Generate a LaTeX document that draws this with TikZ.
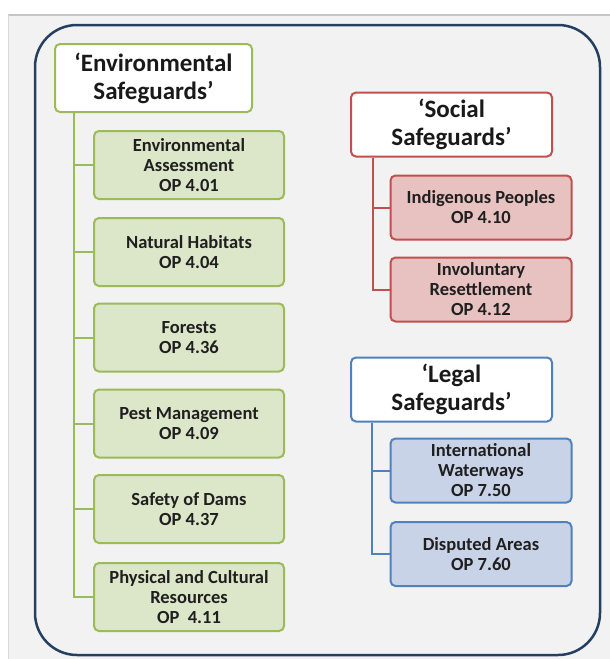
\documentclass[tikz,border=0pt]{standalone}
\usepackage{fontspec}
\setmainfont{Carlito}
\usepackage{tikz}
\usetikzlibrary{positioning}
\definecolor{olivegreen}{HTML}{9BBB59}
\definecolor{olivefill}{HTML}{DCE6C8}
\definecolor{brickred}{HTML}{C0504D}
\definecolor{brickfill}{HTML}{E8C2C1}
\definecolor{steelblue}{HTML}{4F81BD}
\definecolor{steelfill}{HTML}{C9D3E8}
\definecolor{navyframe}{HTML}{243F60}
\definecolor{panelgray}{HTML}{F2F2F2}

\tikzset{
  head/.style={draw=#1, fill=white, line width=2pt, rounded corners=5pt,
    align=center, font=\bfseries\fontsize{25}{28}\selectfont, text=black!90,
    minimum width=197pt, minimum height=68pt, inner sep=1pt},
  leaf/.style 2 args={draw=#1, fill=#2, line width=2pt, rounded corners=5pt,
    align=center, font=\bfseries\fontsize{18.5}{20}\selectfont, text=black!88,
    minimum width=190pt, minimum height=68pt, inner sep=1pt},
  trunk/.style={draw=#1, line width=2pt}
}

\begin{document}
\begin{tikzpicture}[x=1pt, y=-1pt]
  \useasboundingbox (0,0) rectangle (610,659);
  % background panel and frame
  \fill[panelgray] (8,15) rectangle (610,659);
  \draw[gray!45, line width=1.5pt] (8,15) -- (610,15);
  \draw[gray!30, line width=1pt] (8,15) -- (8,659);
  \draw[navyframe, line width=2.5pt, rounded corners=42pt] (35,25) rectangle (600,655);

  % environmental branch
  \node[head=olivegreen] (env) at (153.5,78) {`Environmental\\Safeguards'};
  \node[leaf={olivegreen}{olivefill}] (ea) at (189,165) {Environmental\\Assessment\\OP 4.01};
  \node[leaf={olivegreen}{olivefill}] (nh) at (189,252) {Natural Habitats\\OP 4.04};
  \node[leaf={olivegreen}{olivefill}] (fo) at (189,337.5) {Forests\\OP 4.36};
  \node[leaf={olivegreen}{olivefill}] (pm) at (189,423.5) {Pest Management\\OP 4.09};
  \node[leaf={olivegreen}{olivefill}] (sd) at (189,509) {Safety of Dams\\OP 4.37};
  \node[leaf={olivegreen}{olivefill}] (pc) at (189,597) {Physical and Cultural\\Resources\\OP\ \ 4.11};
  \foreach \n in {ea,nh,fo,pm,sd,pc}
    \draw[trunk=olivegreen] ([xshift=20pt]env.south west) |- (\n.west);

  % social branch
  \node[head=brickred, minimum width=201pt, minimum height=64pt] (soc) at (451.5,124.5) {`Social\\Safeguards'};
  \node[leaf={brickred}{brickfill}, minimum width=181pt, minimum height=64pt] (ip) at (481,207.5) {Indigenous Peoples\\OP 4.10};
  \node[leaf={brickred}{brickfill}, minimum width=181pt, minimum height=64pt] (ir) at (481,289.5) {Involuntary\\Resettlement\\OP 4.12};
  \foreach \n in {ip,ir}
    \draw[trunk=brickred] ([xshift=23pt]soc.south west) |- (\n.west);

  % legal branch
  \node[head=steelblue, minimum width=201pt, minimum height=64pt] (leg) at (451.5,389.5) {`Legal\\Safeguards'};
  \node[leaf={steelblue}{steelfill}, minimum width=181pt, minimum height=64pt] (iw) at (481,470.5) {International\\Waterways\\OP 7.50};
  \node[leaf={steelblue}{steelfill}, minimum width=181pt, minimum height=64pt] (da) at (481,554) {Disputed Areas\\OP 7.60};
  \foreach \n in {iw,da}
    \draw[trunk=steelblue] ([xshift=22pt]leg.south west) |- (\n.west);
\end{tikzpicture}
\end{document}
